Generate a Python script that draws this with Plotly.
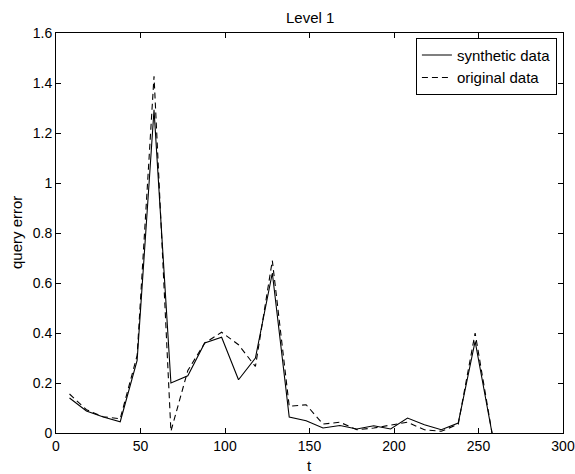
import plotly.graph_objects as go

# time steps
t = [8, 18, 28, 38, 48, 58, 68, 78, 88, 98, 108, 118, 128, 138, 148, 158,
     168, 178, 188, 198, 208, 218, 228, 238, 248, 258]

# query error per time step
synthetic = [0.14, 0.088, 0.064, 0.045, 0.29, 1.293, 0.20, 0.229, 0.36, 0.383,
             0.213, 0.30, 0.64, 0.064, 0.049, 0.02, 0.03, 0.016, 0.029, 0.016,
             0.06, 0.033, 0.013, 0.04, 0.367, 0.0]
original = [0.156, 0.093, 0.065, 0.057, 0.31, 1.427, 0.007, 0.25, 0.36, 0.403,
            0.353, 0.266, 0.69, 0.107, 0.113, 0.036, 0.043, 0.013, 0.02, 0.03,
            0.043, 0.013, 0.007, 0.035, 0.40, 0.0]

x_ticks = [0, 50, 100, 150, 200, 250, 300]
y_ticks = [0, 0.2, 0.4, 0.6, 0.8, 1.0, 1.2, 1.4, 1.6]

FAMILY = "Liberation Sans, Arial, sans-serif"
font = dict(family=FAMILY, size=15, color="black")
tick_font = dict(family=FAMILY, size=14, color="black")

fig = go.Figure()
fig.add_trace(go.Scatter(x=t, y=synthetic, mode="lines", name="synthetic data",
                         line=dict(color="black", width=1.1)))
fig.add_trace(go.Scatter(x=t, y=original, mode="lines", name="original data",
                         line=dict(color="black", width=1.1, dash="6px,4px")))

axis_common = dict(showline=True, linecolor="black", linewidth=1, mirror="ticks",
                   ticks="inside", ticklen=5, tickcolor="black", showgrid=False,
                   zeroline=False, tickfont=tick_font, automargin=False)

fig.update_layout(
    width=575, height=474,
    margin=dict(l=56, r=12, t=33, b=41),
    paper_bgcolor="white", plot_bgcolor="white",
    font=font,
    xaxis=dict(range=[0, 300], tickvals=x_ticks, **axis_common),
    yaxis=dict(range=[0, 1.6], tickvals=y_ticks, **axis_common),
    legend=dict(x=0.988, y=0.988, xanchor="right", yanchor="top",
                bordercolor="black", borderwidth=1, bgcolor="white",
                font=font, tracegroupgap=0, itemwidth=30),
    showlegend=True,
    annotations=[
        dict(text="Level 1", xref="paper", yref="paper", x=0.5, y=1,
             yshift=16, xanchor="center", yanchor="middle", showarrow=False,
             font=font),
        dict(text="t", xref="paper", yref="paper", x=0.5, y=0,
             yshift=-32, xanchor="center", yanchor="middle", showarrow=False,
             font=font),
        dict(text="query error", xref="paper", yref="paper", x=0, y=0.5,
             xshift=-40, xanchor="center", yanchor="middle", textangle=-90,
             showarrow=False, font=font),
    ],
)

fig.write_html("out.html")
